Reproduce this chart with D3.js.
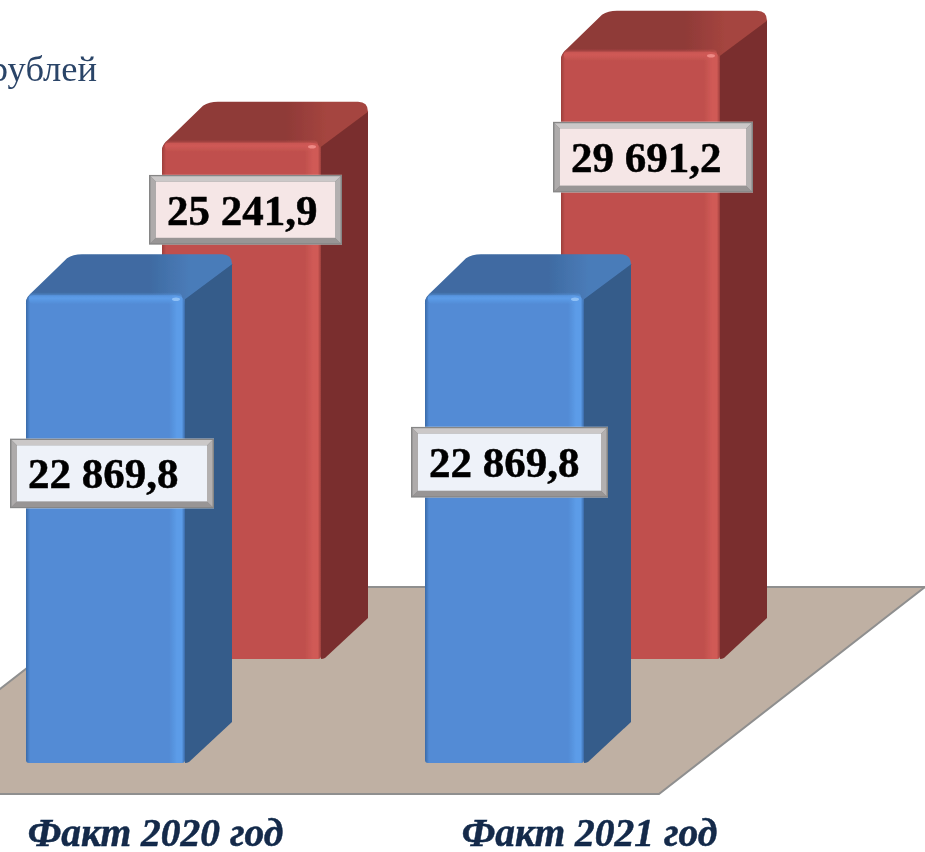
<!DOCTYPE html>
<html>
<head>
<meta charset="utf-8">
<script src="https://cdnjs.cloudflare.com/ajax/libs/d3/7.8.5/d3.min.js"></script>
<style>
  html, body { margin: 0; padding: 0; background: #fff; overflow: hidden; }
  svg { display: block; }
  text { font-family: "Liberation Serif", serif; }
</style>
</head>
<body>
<div id="chart"></div>
<script>
// data
var categories = ["Факт 2020 год", "Факт 2021 год"];
var seriesNames = ["front", "back"];
var frontValues = [22869.8, 22869.8];
var backValues = [25241.9, 29691.2];
var unitLabel = "рублей";

// size and layout
var width = 925;
var height = 852;
var barWidth = 159;
var depthX = 47;
var depthY = 41;
var baseY = 763;

// label box offset from the bar's front left corner, [dx, top as share of bar height]
var labelBoxes = {
  "front0": { dx: -16, share: 0.306, w: 204, h: 70 },
  "back0": { dx: -13, share: 0.062, w: 193, h: 70 },
  "front1": { dx: -14, share: 0.281, w: 197, h: 71 },
  "back1": { dx: -8, share: 0.115, w: 200, h: 71 }
};

var palette = {
  front: { face: "#528bd5", light: "#5c9ce8", dark: "#3a6aa8", side: "#345b8a", topA: "#3f6ba2", topB: "#4a7cb9", box: "#eef2f9", spot: "#8fc0f5" },
  back: { face: "#c0504d", light: "#d05a56", dark: "#9c3f3c", side: "#7a2f2d", topA: "#8f3a38", topB: "#a5453f", box: "#f5e6e6", spot: "#ee8a86" }
};

var svg = d3.select("#chart").append("svg")
  .attr("width", width)
  .attr("height", height);

var defs = svg.append("defs");

// the reference is a slightly soft picture
defs.append("filter").attr("id", "soft")
  .attr("x", "-5%").attr("y", "-5%").attr("width", "110%").attr("height", "110%")
  .append("feGaussianBlur").attr("stdDeviation", 0.5);

var root = svg.append("g").attr("filter", "url(#soft)");

// scales
var xScale = d3.scaleBand().domain(categories).range([26, 26 + 399 * 2]);
var seriesX = d3.scalePoint().domain(seriesNames).range([0, 136]);
var seriesY = d3.scalePoint().domain(seriesNames).range([0, 104]);
var hScale = d3.scaleLinear().domain([0, 30000]).range([0, 613.5]);
var labelX = d3.scalePoint().domain(categories).range([155, 589]);

var fmt = d3.formatLocale({ decimal: ",", thousands: " ", grouping: [3], currency: ["", ""] }).format(",.1f");

// gradients for each series
seriesNames.forEach(function(s) {
  var c = palette[s];
  var g = defs.append("linearGradient").attr("id", "face-" + s);
  [[0, c.dark], [0.025, c.face], [0.9, c.face], [0.95, c.light], [0.98, c.light], [1, c.dark]].forEach(function(st) {
    g.append("stop").attr("offset", st[0]).attr("stop-color", st[1]);
  });
  var t = defs.append("linearGradient").attr("id", "top-" + s);
  [[0, c.topA], [0.6, c.topA], [0.8, c.topB], [1, c.topB]].forEach(function(st) {
    t.append("stop").attr("offset", st[0]).attr("stop-color", st[1]);
  });
  var e = defs.append("linearGradient").attr("id", "edge-" + s).attr("x2", 0).attr("y2", 1);
  e.append("stop").attr("offset", 0).attr("stop-color", c.light).attr("stop-opacity", 0);
  e.append("stop").attr("offset", 0.5).attr("stop-color", c.light);
  e.append("stop").attr("offset", 1).attr("stop-color", c.light).attr("stop-opacity", 0);
});

// floor
var floorY = d3.scaleLinear().domain([0, 1]).range([587, 794]);
var floorPath = d3.path();
floorPath.moveTo(131, floorY(0));
floorPath.lineTo(925, floorY(0));
floorPath.lineTo(659, floorY(1));
floorPath.lineTo(-135, floorY(1));
floorPath.closePath();
root.append("path")
  .attr("d", floorPath.toString())
  .attr("fill", "#bfb0a3")
  .attr("stroke", "#8f8f8f")
  .attr("stroke-width", 2);

// unit text, runs off the left side like in the reference
root.append("text")
  .attr("x", 97)
  .attr("y", 81)
  .attr("text-anchor", "end")
  .attr("font-size", 36.5)
  .attr("fill", "#2b4468")
  .text(unitLabel);

function valuesOf(s) {
  return s === "front" ? frontValues : backValues;
}

function drawBars(s) {
  var c = palette[s];
  var rows = categories.map(function(cat, i) {
    return { cat: cat, i: i, value: valuesOf(s)[i] };
  });
  var bars = root.selectAll("g.bar-" + s).data(rows).enter()
    .append("g")
    .attr("class", "bar-" + s)
    .attr("transform", function(d) {
      return "translate(" + (xScale(d.cat) + seriesX(s)) + "," + (baseY - seriesY(s)) + ")";
    });

  // side face
  bars.append("path")
    .attr("fill", c.side)
    .attr("d", function(d) {
      var h = hScale(d.value);
      return "M" + barWidth + "," + (-h + 2) +
        "L" + (barWidth + depthX - 6) + "," + (-h - depthY + 4) +
        "L" + (barWidth + depthX) + "," + (-h - depthY + 10) +
        "L" + (barWidth + depthX) + "," + (-depthY) +
        "L" + (barWidth + 4) + "," + (-1) +
        "Q" + (barWidth + 2) + ",0 " + barWidth + ",0Z";
    });

  // top face
  bars.append("path")
    .attr("fill", "url(#top-" + s + ")")
    .attr("d", function(d) {
      var h = hScale(d.value);
      return "M0," + (-h + 6) +
        "Q1," + (-h + 1) + " 6," + (-h - 3) +
        "L" + (depthX - 6) + "," + (-h - depthY + 4) +
        "Q" + (depthX) + "," + (-h - depthY) + " " + (depthX + 9) + "," + (-h - depthY) +
        "L" + (barWidth + depthX - 10) + "," + (-h - depthY) +
        "Q" + (barWidth + depthX) + "," + (-h - depthY) + " " + (barWidth + depthX) + "," + (-h - depthY + 10) +
        "L" + barWidth + "," + (-h + 4) +
        "L" + barWidth + "," + (-h + 10) +
        "L0," + (-h + 10) + "Z";
    });

  // front face
  bars.append("path")
    .attr("fill", "url(#face-" + s + ")")
    .attr("d", function(d) {
      var h = hScale(d.value);
      return "M0," + (-h + 8) +
        "Q0," + (-h) + " 8," + (-h) +
        "L" + (barWidth - 10) + "," + (-h) +
        "Q" + barWidth + "," + (-h) + " " + barWidth + "," + (-h + 10) +
        "L" + barWidth + ",-3Q" + barWidth + ",0 " + (barWidth - 3) + ",0" +
        "L3,0Q0,0 0,-3Z";
    });

  // lit band along the top of the front face
  bars.append("rect")
    .attr("x", 3)
    .attr("y", function(d) { return -hScale(d.value) - 3; })
    .attr("width", barWidth - 6)
    .attr("height", 12)
    .attr("rx", 5)
    .attr("fill", "url(#edge-" + s + ")");

  // shine spot on the top right corner
  bars.append("ellipse")
    .attr("cx", barWidth - 9)
    .attr("cy", function(d) { return -hScale(d.value) + 4; })
    .attr("rx", 4)
    .attr("ry", 1.8)
    .attr("fill", c.spot);
}

// back row goes first so the front row covers it
drawBars("back");
drawBars("front");

// value labels
function drawLabels(s) {
  categories.forEach(function(cat, i) {
    var value = valuesOf(s)[i];
    var box = labelBoxes[s + i];
    var h = hScale(value);
    var left = xScale(cat) + seriesX(s) + box.dx;
    var top = baseY - seriesY(s) - h + h * box.share;
    var w2 = box.w, h2 = box.h, b = 7;
    var g = root.append("g").attr("transform", "translate(" + left + "," + top + ")");
    g.append("rect").attr("width", w2).attr("height", h2).attr("fill", "#868686");
    var inner = 1.5;
    var sides = [
      ["#cbc8c8", [[inner, inner], [w2 - inner, inner], [w2 - b, b], [b, b]]],
      ["#aeabab", [[inner, inner], [b, b], [b, h2 - b], [inner, h2 - inner]]],
      ["#b3b0b0", [[w2 - inner, inner], [w2 - inner, h2 - inner], [w2 - b, h2 - b], [w2 - b, b]]],
      ["#989595", [[inner, h2 - inner], [b, h2 - b], [w2 - b, h2 - b], [w2 - inner, h2 - inner]]]
    ];
    sides.forEach(function(p) {
      g.append("polygon")
        .attr("points", p[1].map(function(q) { return q.join(","); }).join(" "))
        .attr("fill", p[0]);
    });
    g.append("rect").attr("x", b).attr("y", b).attr("width", w2 - 2 * b).attr("height", h2 - 2 * b).attr("fill", palette[s].box);
    g.append("text")
      .attr("x", 18)
      .attr("y", h2 / 2 + 15)
      .attr("font-size", 43)
      .attr("font-weight", "bold")
      .attr("fill", "#000")
      .attr("stroke", "#000")
      .attr("stroke-width", 0.5)
      .text(fmt(value));
  });
}
drawLabels("back");
drawLabels("front");

// category axis
var axis = d3.axisBottom(labelX).tickSize(0).tickPadding(0);
var axisG = root.append("g")
  .attr("transform", "translate(0,818)")
  .call(axis);
axisG.select(".domain").remove();
axisG.selectAll("text")
  .attr("font-family", "Liberation Serif")
  .attr("font-size", 39.5)
  .attr("font-weight", "bold")
  .attr("font-style", "italic")
  .attr("fill", "#12294a")
  .attr("stroke", "#12294a")
  .attr("stroke-width", 0.5);
</script>
</body>
</html>
